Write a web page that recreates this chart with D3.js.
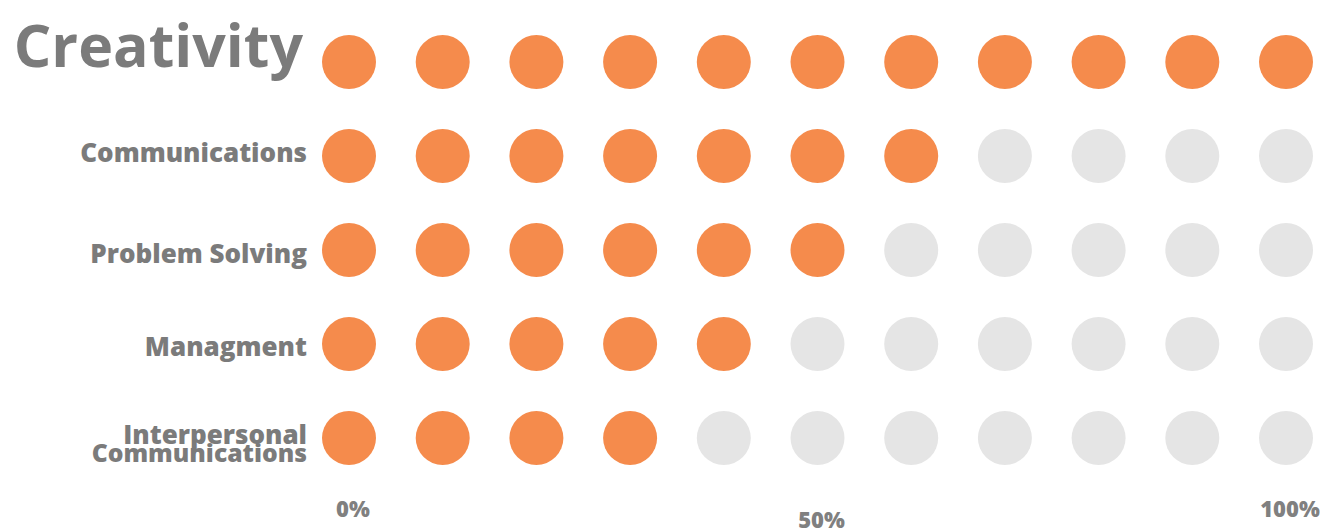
<!DOCTYPE html>
<html>
<head>
<meta charset="utf-8">
<script src="https://cdn.jsdelivr.net/npm/d3@7"></script>
<style>
  html, body { margin: 0; padding: 0; background: #ffffff; }
  svg { display: block; }
  text { font-family: "Open Sans", sans-serif; font-weight: 800; fill: #7b7b7b; }
</style>
</head>
<body>
<svg id="chart" width="1320" height="528"></svg>
<script>
// Skill levels (percent); each row shows 11 dots at 0%, 10%, ... 100%
const skills = ["Creativity", "Communications", "Problem Solving", "Managment", "Interpersonal Communications"];
const skillLines = [["Creativity"], ["Communications"], ["Problem Solving"], ["Managment"], ["Interpersonal", "Communications"]];
const levels = [100, 60, 50, 40, 30];
const steps = [0, 10, 20, 30, 40, 50, 60, 70, 80, 90, 100];
const tickValues = [0, 50, 100];
const tickLabels = ["0%", "50%", "100%"];

const svg = d3.select("#chart");

const x = d3.scaleLinear().domain([0, 100]).range([349, 1286]);
const y = d3.scalePoint().domain(skills).range([62, 438]);

const ON = "#f58b4c", OFF = "#e5e5e5", R = 27;

// dots
const rows = svg.append("g").selectAll("g.row")
  .data(skills.map((s, i) => ({ skill: s, level: levels[i] })))
  .join("g").attr("class", "row");

rows.selectAll("circle")
  .data(d => steps.map(s => ({ skill: d.skill, step: s, on: s <= d.level })))
  .join("circle")
  .attr("cx", d => x(d.step))
  .attr("cy", d => y(d.skill))
  .attr("r", R)
  .attr("fill", d => d.on ? ON : OFF);

// row labels (baseline offsets from the row centre)
const labelX = 307;
const baseOffset = [5, 6, 13, 12, 6];
svg.append("g").selectAll("text")
  .data(skills.map((s, i) => ({ skill: s, lines: skillLines[i], i })))
  .join("text")
  .attr("x", labelX)
  .attr("text-anchor", "end")
  .style("font-size", d => d.i === 0 ? "59px" : "26px")
  .style("font-weight", d => d.i === 0 ? 700 : 800)
  .each(function (d) {
    const t = d3.select(this);
    const cy = y(d.skill) + baseOffset[d.i];
    if (d.i === 0) {
      t.attr("x", 303).attr("y", cy).text(d.lines[0]);
    } else if (d.lines.length === 1) {
      t.attr("y", cy).text(d.lines[0]);
    } else {
      t.attr("y", cy);
      d.lines.forEach((line, k) => {
        t.append("tspan").attr("x", labelX).attr("dy", k === 0 ? 0 : 18)
          .style("font-size", k === 0 ? "26px" : "24.7px").text(line);
      });
    }
  });

// percent axis labels
svg.append("g").selectAll("text")
  .data(tickValues.map((v, i) => ({ v, label: tickLabels[i] })))
  .join("text")
  .attr("x", d => x(d.v) + 4)
  .attr("y", d => d.v === 50 ? 528 : 517)
  .attr("text-anchor", "middle")
  .style("font-size", "22px")
  .style("fill", "#808080")
  .text(d => d.label);
</script>
</body>
</html>
